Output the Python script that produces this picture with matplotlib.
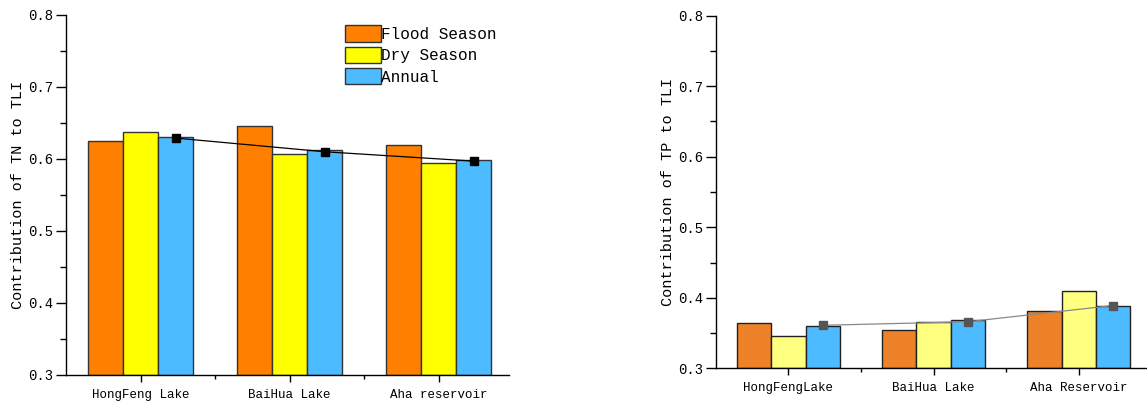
import matplotlib
matplotlib.use("Agg")
import matplotlib.pyplot as plt
import numpy as np
from matplotlib.ticker import MultipleLocator, FixedLocator
from matplotlib.patches import Patch

plt.rcParams['font.family'] = ['Liberation Mono', 'DejaVu Sans Mono']

# ---- data ----
lakes_tn = ["HongFeng Lake", "BaiHua Lake", "Aha reservoir"]
lakes_tp = ["HongFengLake", "BaiHua Lake", "Aha Reservoir"]
series_names = ["Flood Season", "Dry Season", "Annual"]

tn_flood = [0.6255, 0.646, 0.619]
tn_dry = [0.637, 0.607, 0.594]
tn_annual = [0.631, 0.612, 0.599]
tn_trend = [0.629, 0.610, 0.597]

tp_flood = [0.364, 0.354, 0.381]
tp_dry = [0.346, 0.366, 0.410]
tp_annual = [0.3605, 0.3685, 0.389]
tp_trend = [0.361, 0.366, 0.389]

y_ticks = [0.3, 0.4, 0.5, 0.6, 0.7, 0.8]

fig = plt.figure(figsize=(11.47, 4.05), dpi=100)

def style_axes(ax, labels, ylabel, ylab_x):
    ax.spines['top'].set_visible(False)
    ax.spines['right'].set_visible(False)
    ax.set_ylim(0.3, 0.8)
    ax.yaxis.set_major_locator(FixedLocator(y_ticks))
    ax.yaxis.set_minor_locator(MultipleLocator(0.05))
    ax.set_yticklabels([f"{v:.1f}" for v in y_ticks], fontsize=10)
    ax.set_xticks([1, 2, 3])
    ax.set_xticklabels(labels, fontsize=9)
    ax.xaxis.set_minor_locator(FixedLocator([1.5, 2.5]))
    ax.tick_params(axis='y', which='major', direction='out', length=7, width=1, pad=2)
    ax.tick_params(axis='y', which='minor', direction='out', length=4, width=1)
    ax.tick_params(axis='x', which='major', direction='out', length=5, width=1, pad=5)
    ax.tick_params(axis='x', which='minor', direction='out', length=3, width=1)
    for s in ['left', 'bottom']:
        ax.spines[s].set_linewidth(1.0)
    ax.set_ylabel(ylabel, fontsize=11)
    ax.yaxis.set_label_coords(ylab_x, 0.5)

x = np.arange(1, 4)
w = 0.235

# ---- left: TN ----
ax1 = fig.add_axes([0.0575, 0.0741, 0.3862, 0.889])
c1 = ["#FF8000", "#FFFF00", "#4DBBFF"]
for i, vals in enumerate([tn_flood, tn_dry, tn_annual]):
    ax1.bar(x + (i - 1) * w, np.array(vals) - 0.3, w, bottom=0.3, color=c1[i],
            edgecolor="#333333", linewidth=1.0, zorder=2)
ax1.plot(x + w, tn_trend, color="black", linewidth=0.9, marker="s", markersize=6,
         markerfacecolor="black", markeredgecolor="black", zorder=3)
ax1.set_xlim(0.5, 3.47)
style_axes(ax1, lakes_tn, "Contribution of TN to TLI", -0.092)

handles = [Patch(facecolor=c1[i], edgecolor="#333333", linewidth=1.0) for i in range(3)]
ax1.legend(handles, series_names, loc="upper left", bbox_to_anchor=(0.623, 0.98),
           frameon=False, fontsize=11.5, handlelength=2.25, handleheight=1.2,
           labelspacing=0.3, handletextpad=0.0, borderpad=0.2, borderaxespad=0.0)

# ---- right: TP ----
ax2 = fig.add_axes([0.6242, 0.0906, 0.3758, 0.8706])
c2 = ["#EE8228", "#FFFF80", "#4DBBFF"]
for i, vals in enumerate([tp_flood, tp_dry, tp_annual]):
    ax2.bar(x + (i - 1) * w, np.array(vals) - 0.3, w, bottom=0.3, color=c2[i],
            edgecolor="#222222", linewidth=1.0, zorder=2)
ax2.plot(x + w, tp_trend, color="#888888", linewidth=0.9, marker="s", markersize=6,
         markerfacecolor="#555555", markeredgecolor="#555555", zorder=3)
ax2.set_xlim(0.5, 3.472)
style_axes(ax2, lakes_tp, "Contribution of TP to TLI", -0.095)

fig.savefig("out.png", dpi=100)
